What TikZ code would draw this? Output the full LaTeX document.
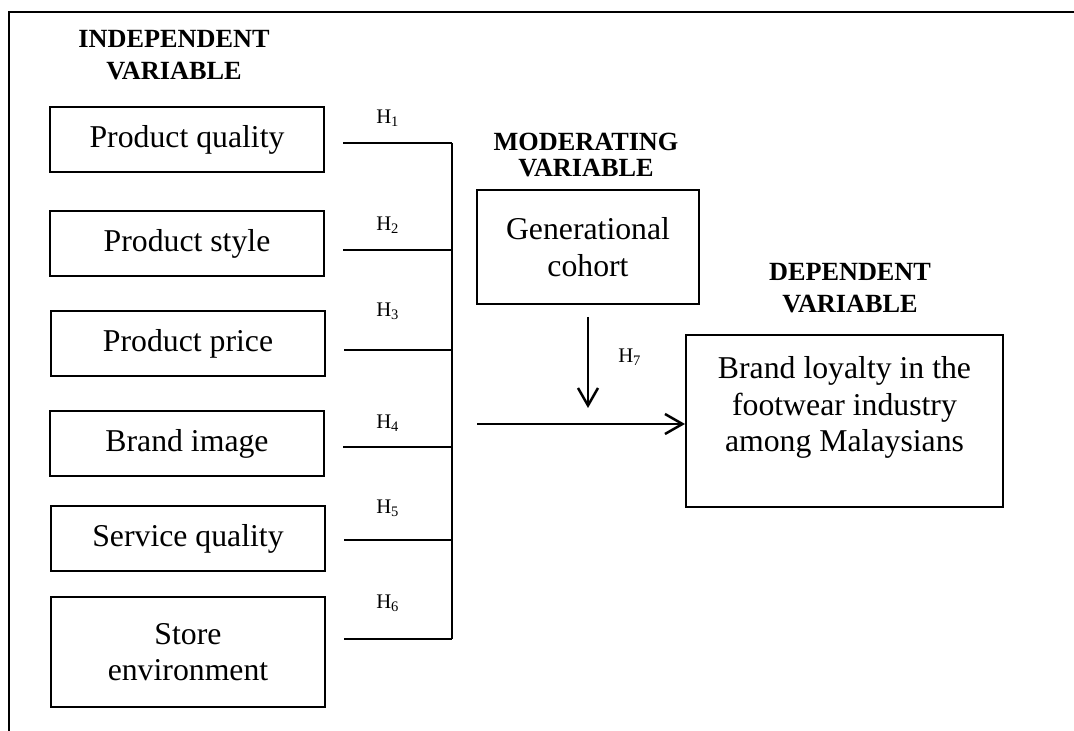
\documentclass[tikz,border=0pt]{standalone}
\usepackage{fontspec}
\setmainfont{Liberation Serif}
\usetikzlibrary{arrows.meta,positioning}

\begin{document}
\begin{tikzpicture}[x=0.4pt, y=-0.4pt,
    varbox/.style = {draw, line width=0.8pt, minimum width=109.6pt,
      minimum height=26pt, align=center, inner sep=2pt,
      font=\fontsize{12.7}{14.6}\selectfont},
    heading/.style = {align=center, inner sep=0pt,
      font=\fontsize{10.5}{12.8}\selectfont\bfseries},
    hyp/.style = {inner sep=0pt, font=\fontsize{8.3}{10}\selectfont},
    link/.style = {line width=1pt},
    arr/.style = {line width=1pt, -{Straight Barb[length=7pt,width=8pt]}}]
  \useasboundingbox (0,0) rectangle (1074,731);
  % frame
  \draw[line width=1.1pt] (1074,12) -- (9,12) -- (9,731);

  % headings
  \node[heading] (indep) at (174,55) {INDEPENDENT\\VARIABLE};
  \node[heading, font=\fontsize{10.5}{10.6}\selectfont\bfseries] (modvar) at (586,155) {MODERATING\\VARIABLE};
  \node[heading] (depvar) at (850,288) {DEPENDENT\\VARIABLE};

  % independent variables
  \node[varbox] (pq) at (187,139.5) {Product quality};
  \node[varbox] (ps) at (187,243.5) {Product style};
  \node[varbox] (pp) at (188,344) {Product price};
  \node[varbox] (bi) at (187,443.5) {Brand image};
  \node[varbox] (sq) at (188,538.5) {Service quality};
  \node[varbox, minimum height=44pt] (se) at (188,652) {Store\\environment};

  % moderating and dependent variables
  \node[varbox, minimum width=88.8pt, minimum height=45.6pt] (gen) at (588,247) {Generational\\cohort};
  \node[varbox, minimum width=126.8pt, minimum height=68.8pt] (dep) at (844.5,421) {};
  \node[below=5.6pt of dep.north, align=center, font=\fontsize{12.7}{14.6}\selectfont] (deptext) {Brand loyalty in the\\footwear industry\\among Malaysians};

  % joins on the bracket
  \coordinate (j1) at (452,143);
  \coordinate (j2) at (452,250);
  \coordinate (j3) at (452,350);
  \coordinate (j4) at (452,447);
  \coordinate (j5) at (452,540);
  \coordinate (j6) at (452,639);
  \coordinate (mid) at (477,424);
  \coordinate (mod) at (588,408);

  \draw[link] ([xshift=7.2pt]pq.east |- j1) -- (j1);
  \draw[link] ([xshift=7.2pt]ps.east |- j2) -- (j2);
  \draw[link] ([xshift=7.2pt]pp.east |- j3) -- (j3);
  \draw[link] ([xshift=7.2pt]bi.east |- j4) -- (j4);
  \draw[link] ([xshift=7.2pt]sq.east |- j5) -- (j5);
  \draw[link] ([xshift=7.2pt]se.east |- j6) -- (j6);
  \draw[link] (j1) -- (j6);

  \draw[arr] (mid) -- (dep.west |- mid);
  \draw[arr] ([yshift=-4.8pt]gen.south) -- (mod);

  % hypotheses
  \node[hyp] (h1) at (388,118) {H\textsubscript{1}};
  \node[hyp] (h2) at (388,225) {H\textsubscript{2}};
  \node[hyp] (h3) at (388,311) {H\textsubscript{3}};
  \node[hyp] (h4) at (388,423) {H\textsubscript{4}};
  \node[hyp] (h5) at (388,508) {H\textsubscript{5}};
  \node[hyp] (h6) at (388,603) {H\textsubscript{6}};
  \node[hyp] (h7) at (630,357) {H\textsubscript{7}};
\end{tikzpicture}
\end{document}
